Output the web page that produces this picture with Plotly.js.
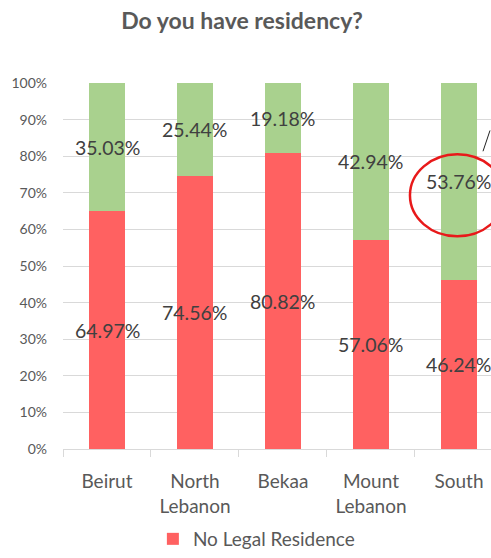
<!DOCTYPE html>
<html>
<head>
<meta charset="utf-8">
<script src="https://cdn.plot.ly/plotly-3.0.1.min.js"></script>
<style>html,body{margin:0;padding:0;overflow:hidden;background:#fff}</style>
</head>
<body>
<div id="chart" style="width:491px;height:558px"></div>
<script>
const categories = ["Beirut", "North<br>Lebanon", "Bekaa", "Mount<br>Lebanon", "South"];
const noLegal = [64.97, 74.56, 80.82, 57.06, 46.24];
const legal = [35.03, 25.44, 19.18, 42.94, 53.76];
const seriesNames = ["No Legal Residence", "Legal Residence"];

const red = "#FF6161", green = "#A9D18E";
const FONT = "Lato, 'Open Sans', sans-serif";

const traces = [
  {type: "bar", x: categories, y: noLegal.map(v => v / 100), name: seriesNames[0],
   marker: {color: red}, width: 0.4, hoverinfo: "skip"},
  {type: "bar", x: categories, y: legal.map(v => v / 100), name: seriesNames[1],
   marker: {color: green}, width: 0.4, hoverinfo: "skip", showlegend: false}
];

const annotations = [];
categories.forEach((c, i) => {
  annotations.push({x: c, y: noLegal[i] / 200, xref: "x", yref: "y", text: noLegal[i].toFixed(2) + "%",
    showarrow: false, font: {family: FONT, size: 19.5, color: "#404040"}});
  annotations.push({x: c, y: (noLegal[i] + legal[i] / 2) / 100, xref: "x", yref: "y", text: legal[i].toFixed(2) + "%",
    showarrow: false, font: {family: FONT, size: 19.5, color: "#404040"}});
});

const layout = {
  width: 491, height: 558,
  margin: {l: 63, r: 0, t: 83, b: 105},
  barmode: "stack",
  paper_bgcolor: "#fff", plot_bgcolor: "#fff",
  font: {family: FONT, color: "#595959"},
  title: {text: "<b>Do you have residency?</b>", x: 0.493, xref: "container", xanchor: "center",
    y: 0.963, yanchor: "middle", font: {family: FONT, size: 23, color: "#595959"}},
  xaxis: {type: "category", range: [-0.5, 4.364], showline: true, linecolor: "#d9d9d9", linewidth: 1,
    ticks: "outside", tickson: "boundaries", ticklen: 7, tickcolor: "#d9d9d9",
    ticklabelstandoff: 15,
    tickfont: {family: FONT, size: 19, color: "#595959"}, showgrid: false, fixedrange: true},
  yaxis: {range: [0, 1], dtick: 0.1, tickformat: ".0%", showgrid: true, gridcolor: "#d9d9d9",
    zeroline: false, showline: false, ticks: "", ticklabelstandoff: 15,
    tickfont: {family: FONT, size: 14, color: "#595959"}, fixedrange: true},
  legend: {orientation: "h", x: 0.21, xanchor: "left", y: -0.246, yanchor: "middle",
    font: {family: FONT, size: 19, color: "#595959"}},
  annotations: annotations,
  shapes: [
    {type: "circle", xref: "x", yref: "y", x0: 3.443, x1: 4.52, y0: 0.581, y1: 0.805,
      line: {color: "#E8191A", width: 2.5}},
    {type: "line", xref: "paper", yref: "paper", x0: (483 - 63) / 428, x1: (490 - 63) / 428,
      y0: (453 - 152) / 370, y1: (453 - 131) / 370, line: {color: "#222", width: 1}}
  ],
  showlegend: true
};

Plotly.newPlot("chart", traces, layout, {displayModeBar: false, staticPlot: true});
</script>
</body>
</html>
